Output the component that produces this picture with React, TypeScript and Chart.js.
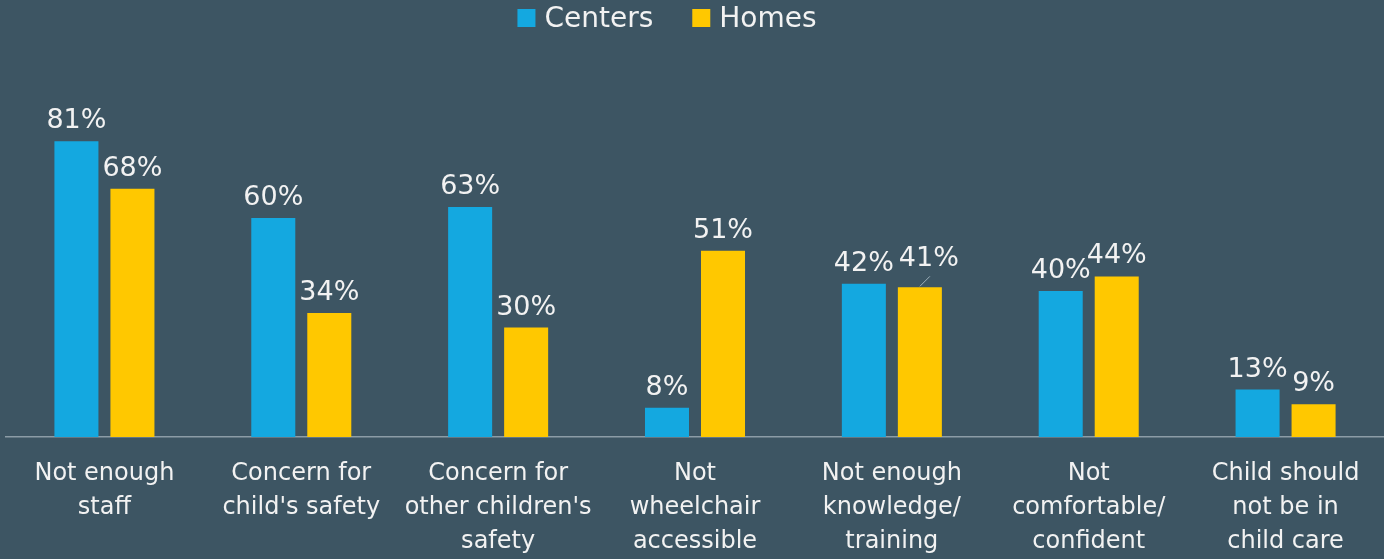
import React, { useEffect, useRef } from "react";
import { Chart, registerables } from "chart.js";

Chart.register(...registerables);

const categories: string[][] = [
  ["Not enough", "staff"],
  ["Concern for", "child's safety"],
  ["Concern for", "other children's", "safety"],
  ["Not", "wheelchair", "accessible"],
  ["Not enough", "knowledge/", "training"],
  ["Not", "comfortable/", "confident"],
  ["Child should", "not be in", "child care"],
];
const seriesNames = ["Centers", "Homes"];
const centersValues = [81, 60, 63, 8, 42, 40, 13];
const homesValues = [68, 34, 30, 51, 41, 44, 9];

const BG = "#3d5563";
const BLUE = "#14a8e0";
const YELLOW = "#ffc800";
const TEXT = "#f2f2f2";
const FONT = "'DejaVu Sans', sans-serif";

// label adjustments (datasetIndex-index): shifted label with a leader line
const labelShift: Record<string, { dx: number; dy: number; leader: boolean }> = {
  "1-4": { dx: 9, dy: -8, leader: true },
};

const valueLabelPlugin = {
  id: "valueLabels",
  afterDatasetsDraw(chart: any) {
    const ctx: CanvasRenderingContext2D = chart.ctx;
    ctx.save();
    ctx.font = `27px ${FONT}`;
    ctx.fillStyle = TEXT;
    ctx.textAlign = "center";
    ctx.textBaseline = "alphabetic";
    chart.data.datasets.forEach((ds: any, di: number) => {
      const meta = chart.getDatasetMeta(di);
      meta.data.forEach((bar: any, i: number) => {
        const shift = labelShift[`${di}-${i}`];
        const dx = shift ? shift.dx : 0;
        const dy = shift ? shift.dy : 0;
        if (shift && shift.leader) {
          ctx.save();
          ctx.strokeStyle = "#9fb0ba";
          ctx.lineWidth = 1;
          ctx.beginPath();
          ctx.moveTo(bar.x, bar.y - 1);
          ctx.lineTo(bar.x + 10, bar.y - 11);
          ctx.stroke();
          ctx.restore();
        }
        ctx.fillText(`${ds.data[i]}%`, bar.x + dx, bar.y - 13 + dy);
      });
    });
    ctx.restore();
  },
};

const legendPlugin = {
  id: "topLegend",
  afterDraw(chart: any) {
    const ctx: CanvasRenderingContext2D = chart.ctx;
    ctx.save();
    ctx.font = `28px ${FONT}`;
    ctx.textAlign = "left";
    ctx.textBaseline = "alphabetic";
    const box = 18;
    const gapText = 9;
    const gapItem = 39;
    const items = chart.data.datasets.map((ds: any) => ({
      text: ds.label as string,
      color: ds.backgroundColor as string,
      w: ctx.measureText(ds.label).width,
    }));
    const total = items.reduce(
      (s: number, it: any, i: number) => s + box + gapText + it.w + (i ? gapItem : 0),
      0
    );
    let x = chart.width / 2 - 25 - total / 2;
    for (const it of items) {
      ctx.fillStyle = it.color;
      ctx.fillRect(x, 9, box, box);
      ctx.fillStyle = TEXT;
      ctx.fillText(it.text, x + box + gapText, 27);
      x += box + gapText + it.w + gapItem;
    }
    ctx.restore();
  },
};

export default function App() {
  const ref = useRef<HTMLCanvasElement | null>(null);

  useEffect(() => {
    if (!ref.current) return;
    const chart = new Chart(ref.current, {
      type: "bar",
      data: {
        labels: categories,
        datasets: [
          {
            label: seriesNames[0],
            data: centersValues,
            backgroundColor: BLUE,
            categoryPercentage: 0.569,
            barPercentage: 0.786,
          },
          {
            label: seriesNames[1],
            data: homesValues,
            backgroundColor: YELLOW,
            categoryPercentage: 0.569,
            barPercentage: 0.786,
          },
        ],
      },
      options: {
        animation: false,
        responsive: false,
        maintainAspectRatio: false,
        layout: { padding: { left: 6, right: 0, top: 72, bottom: 0 } },
        plugins: {
          legend: { display: false },
          tooltip: { enabled: false },
        },
        scales: {
          x: {
            grid: { display: false, drawTicks: false },
            border: { display: true, color: "#8c9ca6", width: 1.5 },
            ticks: {
              color: TEXT,
              padding: 20,
              maxRotation: 0,
              autoSkip: false,
              font: { family: FONT, size: 24, lineHeight: 34 / 24 },
            },
            afterFit: (scale: any) => {
              scale.height = 122;
            },
          },
          y: {
            display: false,
            min: 0,
            max: 100,
          },
        },
      },
      plugins: [valueLabelPlugin, legendPlugin],
    });
    return () => chart.destroy();
  }, []);

  return (
    <div
      style={{
        position: "fixed",
        left: 0,
        top: 0,
        width: 1384,
        height: 559,
        background: BG,
      }}
    >
      <canvas ref={ref} width={1384} height={559} style={{ display: "block" }} />
    </div>
  );
}
